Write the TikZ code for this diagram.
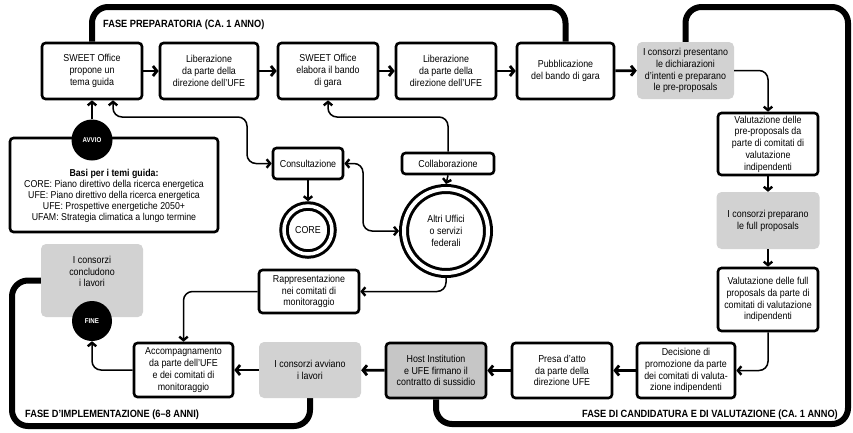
\documentclass[tikz,border=0pt]{standalone}
\usepackage{fontspec}
\setmainfont{Liberation Sans}[FakeStretch=0.88]
\usetikzlibrary{arrows.meta,calc,backgrounds}
\definecolor{lgray}{HTML}{D2D2D2}
\definecolor{mgray}{HTML}{C6C6C6}
\newcommand\boxfont{\fontsize{10.1}{11.8}\selectfont}
\tikzset{
 box/.style={draw, line width=2.6pt, rounded corners=3.5pt, fill=white, align=center, inner sep=0pt, font=\boxfont},
 gbox/.style={fill=lgray, rounded corners=5pt, align=center, inner sep=0pt, font=\boxfont},
 hbox/.style={box, fill=mgray},
 ring/.style={circle, draw, line width=3pt, double=white, double distance=3.5pt, align=center, inner sep=0pt, font=\boxfont},
 blob/.style={circle, fill=black, text=white, font=\fontsize{7}{8}\selectfont\bfseries, inner sep=0pt, minimum size=41pt},
 fat/.style={line width=2.8pt, -{Straight Barb[length=4pt,width=10pt]}},
 con/.style={line width=1.5pt, rounded corners=9pt, -{Straight Barb[length=3.5pt,width=8.5pt,line width=2.4pt]}},
 bicon/.style={con, {Straight Barb[length=3.5pt,width=8.5pt,line width=2.4pt]}-{Straight Barb[length=3.5pt,width=8.5pt,line width=2.4pt]}},
 phase/.style={line width=6pt, rounded corners=16pt},
 plabel/.style={font=\fontsize{10.5}{12}\selectfont\bfseries, inner sep=0pt},
}
\begin{document}
\begin{tikzpicture}[x=1pt,y=-1pt]
\useasboundingbox (0,0) rectangle (853,432);

% top row
\node[box, minimum width=100pt, minimum height=56pt] (b1) at (92,71) {SWEET Office\\propone un\\tema guida};
\node[box, minimum width=98pt, minimum height=56pt] (b2) at (209,71) {Liberazione\\da parte della\\direzione dell’UFE};
\node[box, minimum width=100pt, minimum height=56pt] (b3) at (328,71) {SWEET Office\\elabora il bando\\di gara};
\node[box, minimum width=100pt, minimum height=56pt] (b4) at (446,71) {Liberazione\\da parte della\\direzione dell’UFE};
\node[box, minimum width=97pt, minimum height=56pt] (b5) at (565.5,71) {Pubblicazione\\del bando di gara};
\node[gbox, minimum width=97pt, minimum height=57pt] (b6) at (685.5,70.5) {I consorzi presentano\\le dichiarazioni\\d'intenti e preparano\\le pre-proposals};

% right column
\node[box, minimum width=100pt, minimum height=62pt] (b7) at (768,144) {Valutazione delle\\pre-proposals da\\parte di comitati di\\valutazione\\indipendenti};
\node[gbox, minimum width=103pt, minimum height=57pt] (b8) at (768,220.5) {I consorzi preparano\\le full proposals};
\node[box, minimum width=100pt, minimum height=63pt] (b9) at (768,299.5) {Valutazione delle full\\proposals da parte di\\comitati di valutazione\\indipendenti};

% bottom row
\node[box, minimum width=98pt, minimum height=55pt] (b10) at (686,370.5) {Decisione di\\promozione da parte\\dei comitati di valuta-\\zione indipendenti};
\node[box, minimum width=100pt, minimum height=55pt] (b11) at (562,370.5) {Presa d’atto\\da parte della\\direzione UFE};
\node[hbox, minimum width=100pt, minimum height=55pt] (b12) at (436,370.5) {Host Institution\\e UFE firmano il\\contratto di sussidio};
\node[gbox, minimum width=102pt, minimum height=56pt] (b13) at (310,370) {I consorzi avviano\\i lavori};
\node[box, minimum width=99pt, minimum height=54pt] (b14) at (183.5,370) {Accompagnamento\\da parte dell’UFE\\e dei comitati di\\monitoraggio};

% left: end
\node[gbox, minimum width=102pt, minimum height=73pt] (b15) at (92,280.5) {};
\node[font=\boxfont, align=center, inner sep=0pt] (b15t) at (92,271.5) {I consorzi\\concludono\\i lavori};
\node[blob, minimum size=40pt] (fine) at (92,321) {FINE};

% left: start
\node[box, minimum width=208pt, minimum height=94pt] (basi) at (114,185) {};
\node[font=\fontsize{10}{11.2}\selectfont, align=center, inner sep=0pt] (basit) at (114,196) {\textbf{Basi per i temi guida:}\\CORE: Piano direttivo della ricerca energetica\\UFE: Piano direttivo della ricerca energetica\\UFE: Prospettive energetiche 2050+\\UFAM: Strategia climatica a lungo termine};
\node[blob] (avvio) at (92,140) {AVVIO};

% middle
\node[box, minimum width=70pt, minimum height=31pt] (cons) at (308,163.5) {Consultazione};
\node[box, minimum width=92pt, minimum height=21pt] (collab) at (448,163.5) {Collaborazione};
\node[ring, minimum size=48pt, outer sep=4.75pt] (core) at (308,230) {CORE};
\node[ring, minimum size=84pt, double distance=4pt, outer sep=5pt] (altri) at (446,231) {Altri Uffici\\o servizi\\federali};
\node[box, minimum width=100pt, minimum height=43pt] (rapp) at (309,291.5) {Rappresentazione\\nei comitati di\\monitoraggio};

% phase labels
\node[plabel, anchor=west] (l1) at (103,25) {FASE PREPARATORIA (CA. 1 ANNO)};
\node[plabel, anchor=east] (l2) at (838,415) {FASE DI CANDIDATURA E DI VALUTAZIONE (CA. 1 ANNO)};
\node[plabel, anchor=west] (l3) at (25,415) {FASE D’IMPLEMENTAZIONE (6–8 ANNI)};

% helper coordinates
\coordinate (p1) at (565.5,7);
\coordinate (c1) at (848,7);
\coordinate (c2) at (436,424);
\coordinate (i1) at (12,426);
\coordinate (k2) at (247,117);
\coordinate (k3) at (363,200);
\coordinate (k4) at (400,117);

\begin{scope}[on background layer]
\draw[phase] (b1.north) |- (p1) -- (b5.north);
\draw[phase] (b6.north) |- (c1) |- (c2) -- (b12.south);
\draw[phase] (b13.south) |- (i1) |- (b15.west);
\end{scope}

% main flow
\draw[fat] (b1) -- (b2);
\draw[fat] (b2) -- (b3);
\draw[fat] (b3) -- (b4);
\draw[fat] (b4) -- (b5);
\draw[fat] (b5) -- (b6);
\draw[con] (b6.east) -| (b7.north);
\draw[con] (b7.south) -- (b8.north);
\draw[con] (b8.south) -- (b9.north);
\draw[con] (b9.south) |- (b10.east);
\draw[fat] (b10) -- (b11);
\draw[fat] (b11) -- (b12);
\draw[fat] (b12) -- (b13);
\draw[fat] (b13) -- (b14);
\draw[con] (b14.west) -| (fine.south);

% side relations
\draw[con] (avvio.north) -- (b1.south);
\draw[bicon] ($(b1.south)+(21,0)$) |- (k2) |- (cons.west);
\draw[con] (cons.south) -- (core.north);
\draw[bicon] (cons.east) -| (k3) |- (altri.west);
\draw[con] (collab.north) |- (k4) -| (b3.south);
\draw[con] (collab.south) -- (altri.north);
\draw[con] (altri.south) |- (rapp.east);
\draw[con] (rapp.west) -| (b14.north);
\end{tikzpicture}
\end{document}
